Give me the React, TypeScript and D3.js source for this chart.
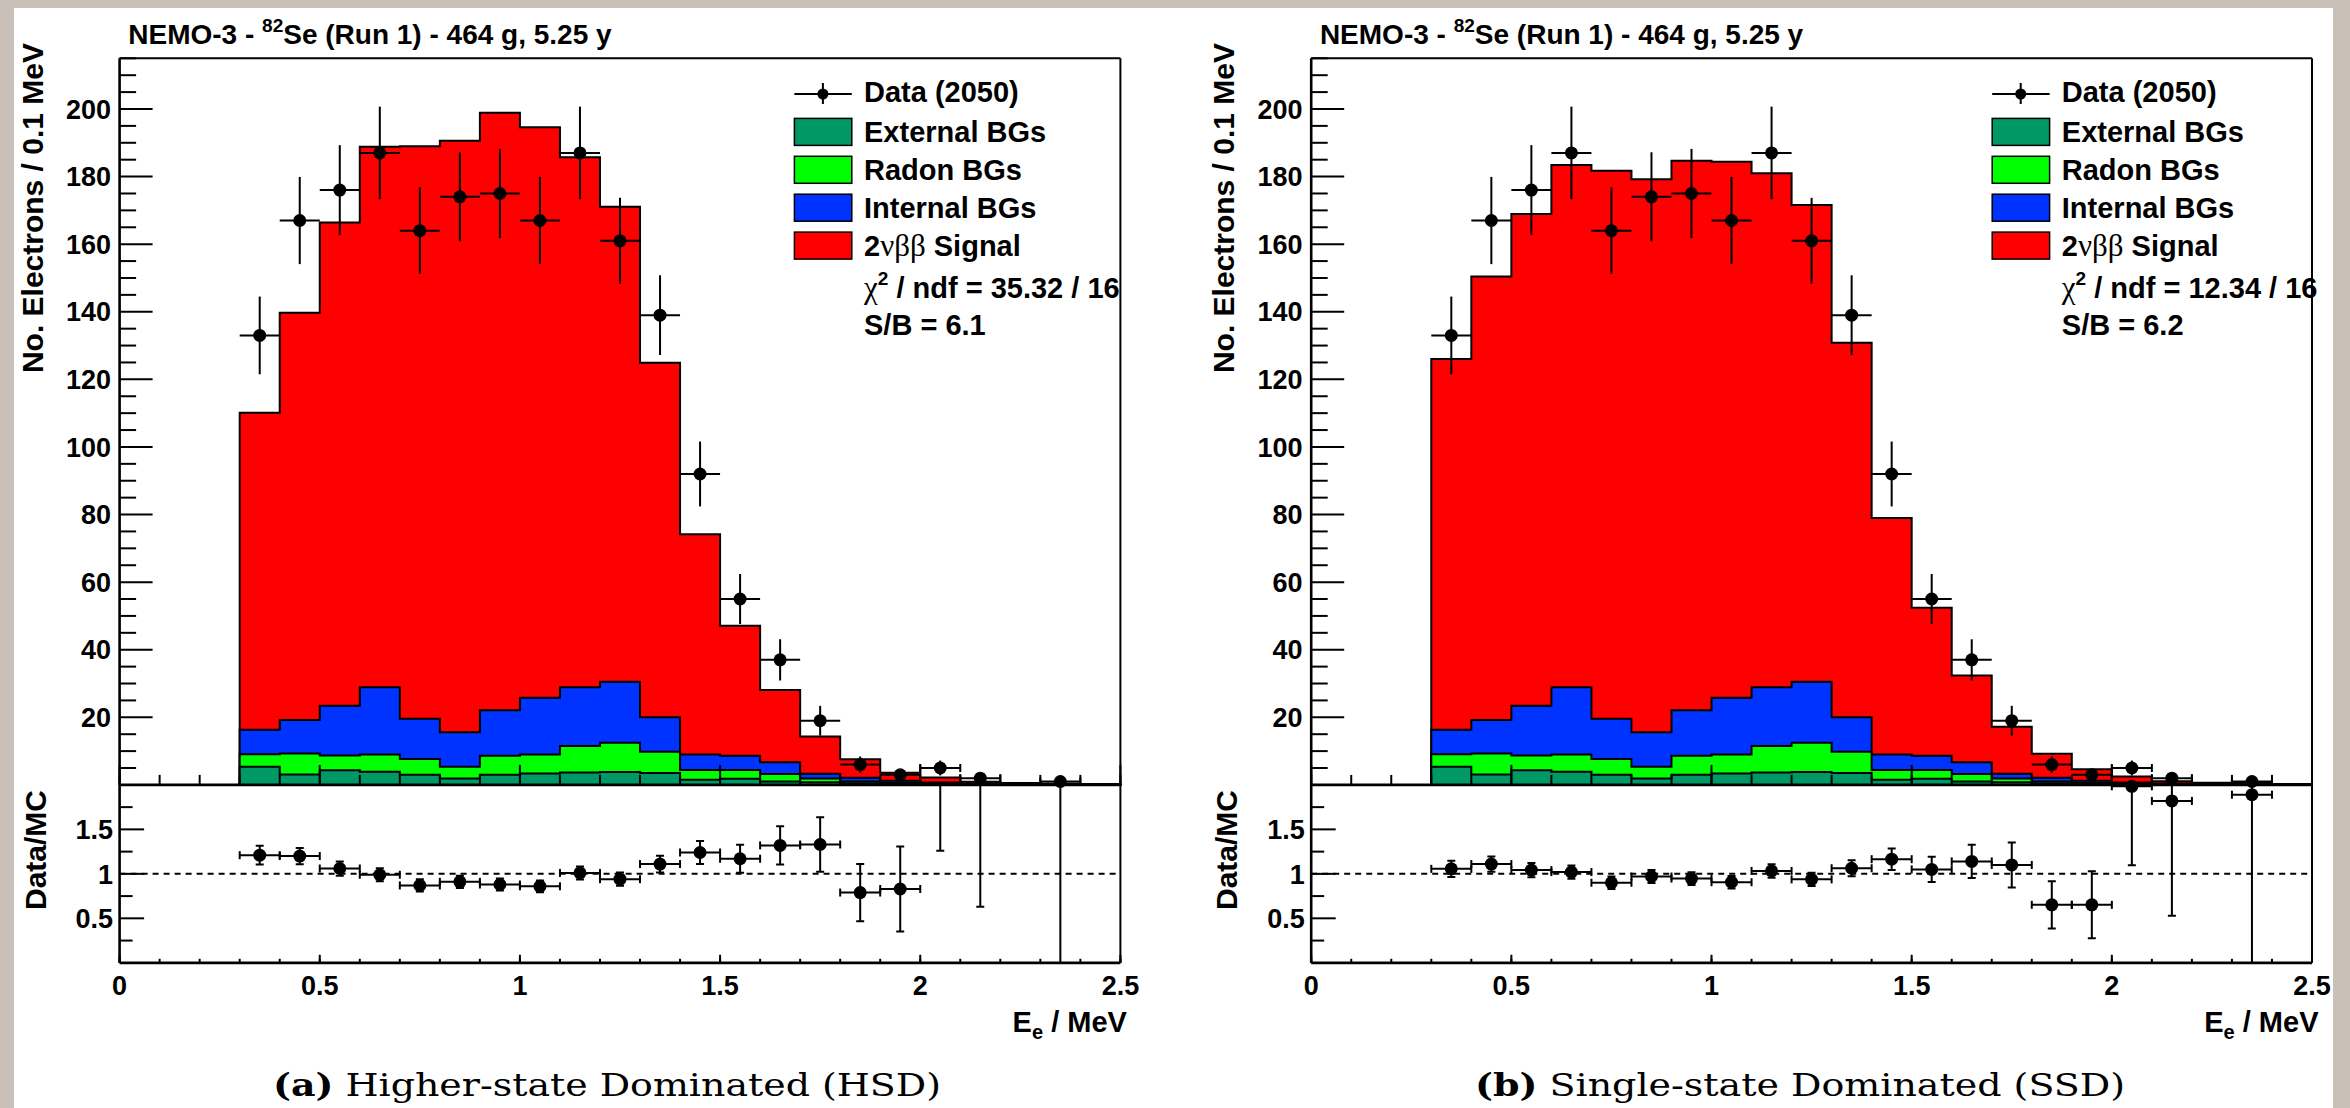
import React from 'react';
import * as d3 from 'd3';

// ---------------- data ----------------
const binLow = [0.3, 0.4, 0.5, 0.6, 0.7, 0.8, 0.9, 1.0, 1.1, 1.2, 1.3, 1.4, 1.5, 1.6, 1.7, 1.8, 1.9, 2.0, 2.1, 2.2, 2.3, 2.4];
const BIN_WIDTH = 0.1;
const dataCounts = [133, 167, 176, 187, 164, 174, 175, 167, 187, 161, 139, 92, 55, 37, 19, 6, 3, 5, 2, 0, 1, 0];
const dataErr = [11.5, 12.9, 13.3, 13.7, 12.8, 13.2, 13.2, 12.9, 13.7, 12.7, 11.8, 9.6, 7.4, 6.1, 4.4, 2.4, 1.7, 2.2, 1.4, 0, 1.0, 0];
const externalBG = [5.4, 3.1, 4.3, 3.9, 3.0, 1.9, 3.0, 3.4, 3.7, 3.8, 3.5, 1.5, 1.8, 1.0, 0.8, 0.5, 0.3, 0.2, 0.1, 0.05, 0.03, 0.02];
const radonBG = [3.7, 6.2, 4.4, 5.1, 4.7, 3.5, 5.6, 5.6, 7.8, 8.7, 6.3, 2.9, 2.6, 2.2, 1.1, 0.5, 0.3, 0.2, 0.1, 0.05, 0.02, 0.01];
const internalBG = [7.2, 9.9, 14.7, 19.9, 11.9, 10.2, 13.5, 16.8, 17.4, 18.0, 10.2, 4.6, 4.2, 3.5, 1.4, 1.1, 0.6, 0.3, 0.2, 0.1, 0.07, 0.05];
const signalHSD = [93.8, 120.5, 143.0, 159.9, 169.4, 175.0, 176.8, 168.8, 156.8, 140.6, 104.9, 65.2, 38.5, 21.4, 11.0, 5.5, 2.43, 1.48, 0.53, 0.35, 0.28, 0.17];
const signalSSD = [109.7, 131.2, 145.5, 154.5, 162.1, 163.6, 162.6, 158.6, 152.1, 141.1, 110.8, 70.0, 43.8, 25.7, 13.9, 7.1, 3.4, 1.82, 0.7, 0.4, 0.41, 0.22];
const ratioHSD = [1.21, 1.20, 1.06, 0.99, 0.87, 0.91, 0.88, 0.86, 1.01, 0.94, 1.11, 1.24, 1.17, 1.32, 1.33, 0.79, 0.83, 2.29, 2.15, null, 2.5, null];
const ratioErrHSD = [0.105, 0.092, 0.08, 0.072, 0.068, 0.069, 0.067, 0.066, 0.074, 0.074, 0.094, 0.129, 0.157, 0.216, 0.305, 0.322, 0.477, 1.03, 1.52, null, 2.5, null];
const ratioSSD = [1.056, 1.11, 1.042, 1.02, 0.9, 0.97, 0.947, 0.906, 1.033, 0.938, 1.063, 1.165, 1.05, 1.14, 1.1, 0.652, 0.652, 1.984, 1.82, null, 1.89, null];
const ratioErrSSD = [0.092, 0.086, 0.079, 0.075, 0.07, 0.074, 0.072, 0.07, 0.076, 0.074, 0.09, 0.121, 0.142, 0.188, 0.253, 0.266, 0.377, 0.887, 1.29, null, 1.89, null];

const xTickValues = [0, 0.5, 1, 1.5, 2, 2.5];
const xTickLabels = ['0', '0.5', '1', '1.5', '2', '2.5'];
const yMainTickValues = [20, 40, 60, 80, 100, 120, 140, 160, 180, 200];
const yRatioTickValues = [0.5, 1, 1.5];
const yRatioTickLabels = ['0.5', '1', '1.5'];
const yRatioMinorValues = [0.25, 0.75, 1.25, 1.75];

const componentKeys = ['ext', 'radon', 'internal', 'signal'];
const componentColors = ['#009966', '#00ff00', '#0033ff', '#ff0000'];
const componentLabels = ['External BGs', 'Radon BGs', 'Internal BGs', 'Signal'];
const dataLabel = 'Data (2050)';
const panelTitleMain = 'NEMO-3 - ';
const panelTitleSup = '82';
const panelTitleRest = 'Se (Run 1) - 464 g, 5.25 y';
const chiValues = ['35.32 / 16', '12.34 / 16'];
const sbValues = ['6.1', '6.2'];
const captionTags = ['(a)', '(b)'];
const captionTexts = [' Higher-state Dominated (HSD)', ' Single-state Dominated (SSD)'];

// ---------------- layout ----------------
const SANS = '"Liberation Sans", Arial, Helvetica, sans-serif';
const SERIF = '"Liberation Serif", "Times New Roman", serif';
const CAPF = '"DejaVu Serif", serif';
const PW = 1000.8;
const Y_TOP = 58.3;
const Y_AXIS = 784.9;
const Y_BOT = 962.8;

const panels = [
  { ox: 119.6, signal: signalHSD, ratio: ratioHSD, ratioErr: ratioErrHSD, legendDx: 674.8, capCx: 607, capW: 668 },
  { ox: 1311.2, signal: signalSSD, ratio: ratioSSD, ratioErr: ratioErrSSD, legendDx: 681, capCx: 1800, capW: 650 },
];

function Panel({ p, idx }: { p: any; idx: number }) {
  const x = d3.scaleLinear().domain([0, 2.5]).range([p.ox, p.ox + PW]);
  const y = d3.scaleLinear().domain([0, 215]).range([Y_AXIS, Y_TOP]);
  const yr = d3.scaleLinear().domain([0, 2]).range([Y_BOT, Y_AXIS]);

  const rows = binLow.map((e, i) => ({ e, ext: externalBG[i], radon: radonBG[i], internal: internalBG[i], signal: p.signal[i] }));
  const stacked = d3.stack<any>().keys(componentKeys)(rows);
  const area = d3
    .area<any>()
    .curve(d3.curveStepAfter)
    .x((d) => x(d.e))
    .y0(y(0))
    .y1((d) => y(d.v));
  const layerPaths = stacked.map((layer) => {
    const pts = layer.map((s, i) => ({ e: binLow[i], v: s[1] }));
    pts.push({ e: binLow[binLow.length - 1] + BIN_WIDTH, v: pts[pts.length - 1].v });
    return area(pts) as string;
  });
  const totals = stacked[stacked.length - 1].map((s) => s[1]);

  const minorX = x.ticks(25);
  const majorX = xTickValues;
  const minorY = y.ticks(43).filter((v) => v > 0 && v % 20 !== 0);
  const clipId = `ratioClip${idx}`;
  const R = 6.5;
  const lx = p.ox + p.legendDx;
  const rowY = [94, 131.9, 169.8, 207.7, 245.6];
  const tx = lx + 69.6;

  return (
    <g>
      <defs>
        <clipPath id={clipId}>
          <rect x={p.ox} y={Y_AXIS} width={PW} height={Y_BOT - Y_AXIS} />
        </clipPath>
      </defs>
      {/* stacked histograms: total first, then lower cumulative ones */}
      {layerPaths
        .map((d, i) => ({ d, i }))
        .reverse()
        .map(({ d, i }) => (
          <path key={i} d={d} fill={componentColors[i]} stroke="#000" strokeWidth={2} strokeLinejoin="miter" />
        ))}
      {/* x ticks of main pad */}
      {minorX.map((v, i) => (
        <line key={'mx' + i} x1={x(v)} x2={x(v)} y1={Y_AXIS} y2={Y_AXIS - 10} stroke="#000" strokeWidth={2} />
      ))}
      {majorX.map((v, i) => (
        <line key={'Mx' + i} x1={x(v)} x2={x(v)} y1={Y_AXIS} y2={Y_AXIS - 20} stroke="#000" strokeWidth={2} />
      ))}
      {/* x ticks of ratio pad */}
      {minorX.map((v, i) => (
        <line key={'rmx' + i} x1={x(v)} x2={x(v)} y1={Y_BOT} y2={Y_BOT - 4} stroke="#000" strokeWidth={2} />
      ))}
      {majorX.map((v, i) => (
        <line key={'rMx' + i} x1={x(v)} x2={x(v)} y1={Y_BOT} y2={Y_BOT - 8} stroke="#000" strokeWidth={2} />
      ))}
      {/* y ticks main */}
      {minorY.map((v, i) => (
        <line key={'my' + i} x1={p.ox} x2={p.ox + 16.5} y1={y(v)} y2={y(v)} stroke="#000" strokeWidth={2} />
      ))}
      {yMainTickValues.map((v, i) => (
        <line key={'My' + i} x1={p.ox} x2={p.ox + 33} y1={y(v)} y2={y(v)} stroke="#000" strokeWidth={2} />
      ))}
      {yMainTickValues.map((v, i) => (
        <text key={'Myl' + i} x={p.ox - 8.6} y={y(v) + 9.7} textAnchor="end" fontFamily={SANS} fontWeight="bold" fontSize={27}>
          {String(v)}
        </text>
      ))}
      {/* y ticks ratio */}
      {yRatioMinorValues.map((v, i) => (
        <line key={'rmy' + i} x1={p.ox} x2={p.ox + 13} y1={yr(v)} y2={yr(v)} stroke="#000" strokeWidth={2} />
      ))}
      {yRatioTickValues.map((v, i) => (
        <line key={'rMy' + i} x1={p.ox} x2={p.ox + 24.5} y1={yr(v)} y2={yr(v)} stroke="#000" strokeWidth={2} />
      ))}
      {yRatioTickValues.map((v, i) => (
        <text key={'rMyl' + i} x={p.ox - 6.5} y={yr(v) + 9.7} textAnchor="end" fontFamily={SANS} fontWeight="bold" fontSize={27}>
          {yRatioTickLabels[i]}
        </text>
      ))}
      {/* frame */}
      <line x1={p.ox} x2={p.ox + PW} y1={Y_TOP} y2={Y_TOP} stroke="#000" strokeWidth={2} />
      <line x1={p.ox + PW} x2={p.ox + PW} y1={Y_TOP} y2={Y_BOT} stroke="#000" strokeWidth={2} />
      <line x1={p.ox} x2={p.ox} y1={Y_TOP} y2={Y_BOT} stroke="#000" strokeWidth={2.6} />
      <line x1={p.ox} x2={p.ox + PW} y1={Y_AXIS} y2={Y_AXIS} stroke="#000" strokeWidth={2.8} />
      <line x1={p.ox} x2={p.ox + PW} y1={Y_BOT} y2={Y_BOT} stroke="#000" strokeWidth={2.8} />
      {/* x tick labels */}
      {majorX.map((v, i) => (
        <text key={'xl' + i} x={x(v)} y={995} textAnchor="middle" fontFamily={SANS} fontWeight="bold" fontSize={27}>
          {xTickLabels[i]}
        </text>
      ))}
      {/* ratio dashed line */}
      <line x1={p.ox} x2={p.ox + PW} y1={yr(1)} y2={yr(1)} stroke="#000" strokeWidth={2} strokeDasharray="6 5" />
      {/* data points main */}
      {binLow.map((e, i) => {
        const n = dataCounts[i];
        if (n <= 0) return null;
        const cx = x(e + BIN_WIDTH / 2);
        const cy = y(n);
        const capped = totals[i] < 3;
        return (
          <g key={'d' + i} stroke="#000" strokeWidth={2}>
            <line x1={x(e)} x2={x(e + BIN_WIDTH)} y1={cy} y2={cy} />
            <line x1={cx} x2={cx} y1={y(n - dataErr[i])} y2={y(n + dataErr[i])} />
            {capped && (
              <>
                <line x1={x(e)} x2={x(e)} y1={cy - 4} y2={cy + 4} />
                <line x1={x(e + BIN_WIDTH)} x2={x(e + BIN_WIDTH)} y1={cy - 4} y2={cy + 4} />
              </>
            )}
            <circle cx={cx} cy={cy} r={R} fill="#000" stroke="none" />
          </g>
        );
      })}
      {/* ratio points */}
      {binLow.map((e, i) => {
        const r = p.ratio[i];
        if (r === null) return null;
        const er = p.ratioErr[i];
        const cx = x(e + BIN_WIDTH / 2);
        const cy = yr(r);
        const inside = r >= 0 && r <= 2;
        const lo = yr(Math.max(r - er, 0));
        const hi = yr(Math.min(r + er, 2));
        return (
          <g key={'r' + i}>
            <g clipPath={`url(#${clipId})`} stroke="#000" strokeWidth={2}>
              <line x1={cx} x2={cx} y1={lo} y2={hi} />
              {r - er > 0 && <line x1={cx - 4} x2={cx + 4} y1={lo} y2={lo} />}
              {r + er < 2 && <line x1={cx - 4} x2={cx + 4} y1={hi} y2={hi} />}
            </g>
            {inside && (
              <g stroke="#000" strokeWidth={2}>
                <line x1={x(e)} x2={x(e + BIN_WIDTH)} y1={cy} y2={cy} />
                <line x1={x(e)} x2={x(e)} y1={cy - 4} y2={cy + 4} />
                <line x1={x(e + BIN_WIDTH)} x2={x(e + BIN_WIDTH)} y1={cy - 4} y2={cy + 4} />
                <circle cx={cx} cy={cy} r={R} fill="#000" stroke="none" />
              </g>
            )}
          </g>
        );
      })}
      {/* title */}
      <text x={p.ox + 8.7} y={44.3} fontFamily={SANS} fontWeight="bold" fontSize={28}>
        {panelTitleMain}
        <tspan fontSize={19} dy={-12.6}>{panelTitleSup}</tspan>
        <tspan dy={12.6}>{panelTitleRest}</tspan>
      </text>
      {/* axis titles */}
      <text transform={`translate(${p.ox - 77},43) rotate(-90)`} textAnchor="end" fontFamily={SANS} fontWeight="bold" fontSize={30}>
        No. Electrons / 0.1 MeV
      </text>
      <text transform={`translate(${p.ox - 74},790) rotate(-90)`} textAnchor="end" fontFamily={SANS} fontWeight="bold" fontSize={30}>
        Data/MC
      </text>
      <text x={p.ox + PW + 6.5} y={1031.7} textAnchor="end" fontFamily={SANS} fontWeight="bold" fontSize={29}>
        E<tspan fontSize={20} dy={7}>e</tspan>
        <tspan dy={-7}> / MeV</tspan>
      </text>
      {/* legend */}
      <g stroke="#000" strokeWidth={2}>
        <line x1={lx} x2={lx + 57.4} y1={rowY[0]} y2={rowY[0]} />
        <line x1={lx + 28.5} x2={lx + 28.5} y1={rowY[0] - 11} y2={rowY[0] + 10} />
        <circle cx={lx + 28.5} cy={rowY[0]} r={5.5} fill="#000" stroke="none" />
      </g>
      <text x={tx} y={rowY[0] + 8} fontFamily={SANS} fontWeight="bold" fontSize={29}>
        {dataLabel}
      </text>
      {componentLabels.map((lab, i) => (
        <g key={'lg' + i}>
          <rect x={lx} y={rowY[i + 1] - 13.5} width={57.4} height={27} fill={componentColors[i]} stroke="#000" strokeWidth={1.5} />
          {i < 3 ? (
            <text x={tx} y={rowY[i + 1] + 10} fontFamily={SANS} fontWeight="bold" fontSize={29}>
              {lab}
            </text>
          ) : (
            <text x={tx} y={rowY[i + 1] + 10} fontFamily={SANS} fontWeight="bold" fontSize={29}>
              2
              <tspan fontFamily={SERIF} fontWeight="normal" fontSize={31}>νββ</tspan>
              <tspan> {lab}</tspan>
            </text>
          )}
        </g>
      ))}
      <text x={tx} y={298} fontFamily={SANS} fontWeight="bold" fontSize={29}>
        <tspan fontFamily={SERIF} fontWeight="normal" fontSize={31}>χ</tspan>
        <tspan fontSize={19} dy={-13}>2</tspan>
        <tspan dy={13}>{' / ndf = ' + chiValues[idx]}</tspan>
      </text>
      <text x={tx} y={335} fontFamily={SANS} fontWeight="bold" fontSize={29}>
        {'S/B = ' + sbValues[idx]}
      </text>
      {/* caption */}
      <text
        x={p.capCx}
        y={1096}
        textAnchor="middle"
        fontFamily={CAPF}
        fontSize={32}
        textLength={p.capW}
        lengthAdjust="spacingAndGlyphs"
      >
        <tspan fontWeight="bold">{captionTags[idx]}</tspan>
        <tspan>{captionTexts[idx]}</tspan>
      </text>
    </g>
  );
}

export default function App() {
  return (
    <svg
      width={2350}
      height={1108}
      viewBox="0 0 2350 1108"
      style={{ position: 'absolute', left: 0, top: 0, display: 'block' }}
    >
      <rect x={0} y={0} width={2350} height={1108} fill="#c9c1b7" />
      <rect x={14} y={8} width={2319} height={1100} fill="#ffffff" />
      {panels.map((p, i) => (
        <Panel key={i} p={p} idx={i} />
      ))}
    </svg>
  );
}
